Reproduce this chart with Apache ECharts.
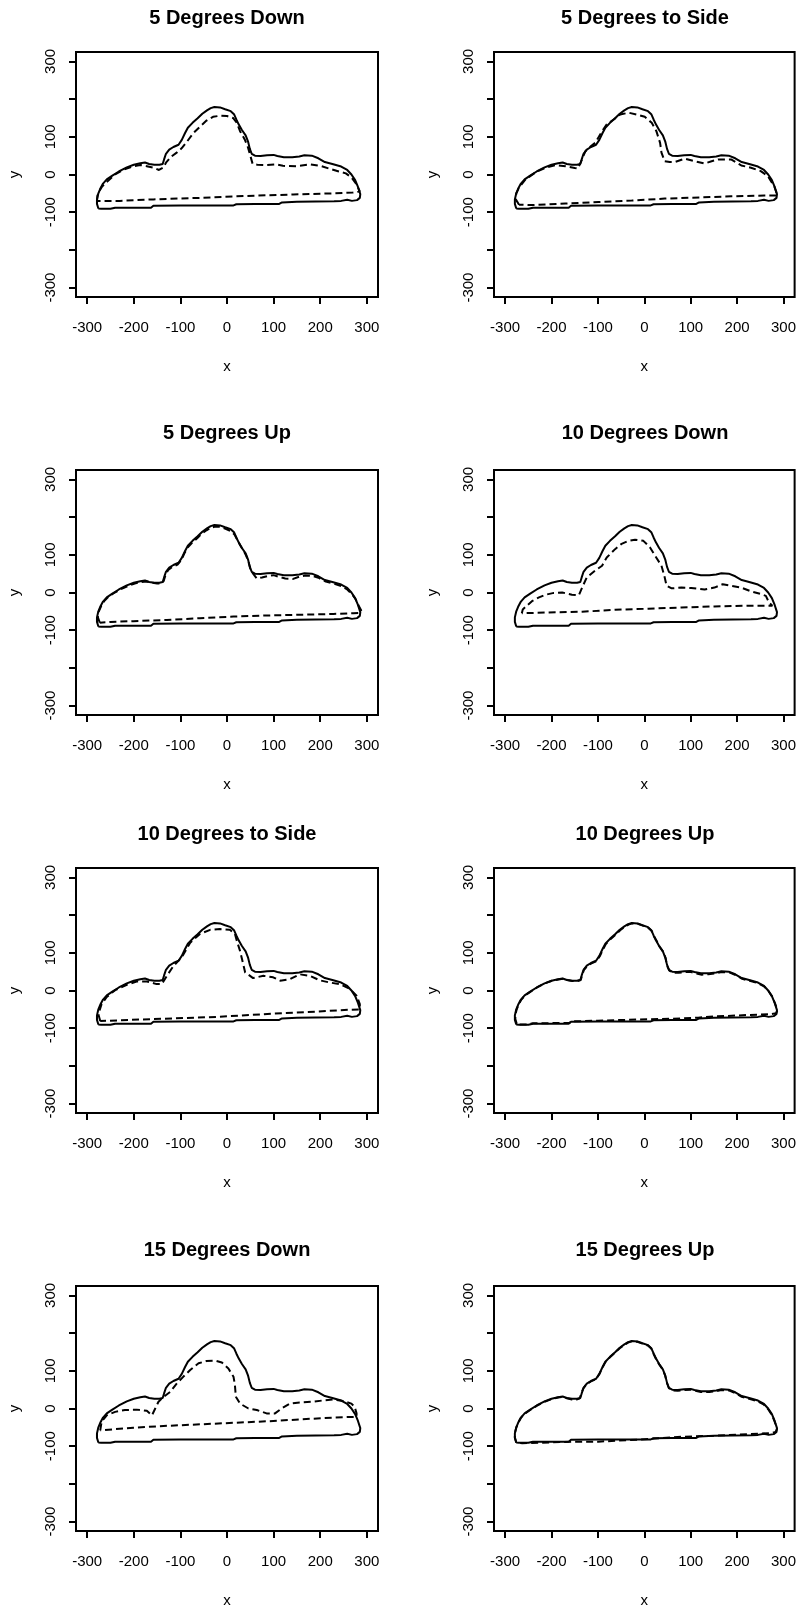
<!DOCTYPE html>
<html>
<head>
<meta charset="utf-8">
<title>Outline distortion by viewing angle</title>
<script src="https://cdn.jsdelivr.net/npm/echarts@6/dist/echarts.min.js"></script>
<style>
  html, body { margin: 0; padding: 0; background: #fff; }
  #main { width: 799px; height: 1617px; }
</style>
</head>
<body>
<div id="main"></div>
<script>
// panel titles, row by row
const panelTitles = [
  "5 Degrees Down", "5 Degrees to Side",
  "5 Degrees Up", "10 Degrees Down",
  "10 Degrees to Side", "10 Degrees Up",
  "15 Degrees Down", "15 Degrees Up"
];
const xTicks = [-300, -200, -100, 0, 100, 200, 300];
const yTicks = [-300, -200, -100, 0, 100, 200, 300];
const yLabels = [-300, -100, 0, 100, 300];

// reference outline (solid), same in every panel
const reference = [
  [-276,-90],[-279,-78],[-279,-66],[-276,-50],[-272,-38],[-266,-24],[-258,-13],[-246,-3],[-232,8],[-215,19],
  [-200,26],[-186,30],[-176,32],[-167,28],[-156,26],[-145,26],[-138,28],[-135,40],[-131,55],[-124,66],
  [-115,73],[-104,79],[-97,92],[-90,110],[-84,124],[-74,137],[-63,149],[-53,161],[-43,170],[-35,176],
  [-27,179],[-15,178],[-4,173],[8,168],[15,160],[20,146],[25,133],[32,118],[40,104],[45,88],
  [49,68],[53,55],[60,50],[72,49],[86,51],[100,52],[108,49],[122,46],[140,46],[155,48],
  [166,51],[182,50],[196,43],[210,33],[228,27],[245,21],[258,12],[267,0],[275,-15],[281,-33],
  [286,-52],[285,-62],[279,-68],[268,-70],[258,-67],[245,-70],[230,-71],[150,-72],[118,-74],[112,-78],
  [60,-78],[20,-79],[14,-82],[-100,-82],[-158,-83],[-163,-88],[-240,-88],[-250,-91],[-270,-91],[-276,-90]
];

// tilted outlines (dashed), one per panel
const down5 = [
  [-279,-70],[-278,-56],[-274,-44],[-268,-32],[-258,-20],[-240,0],[-222,13],[-201,22],[-186,25],[-172,22],
  [-158,18],[-146,12],[-137,18],[-130,33],[-120,47],[-108,58],[-97,70],[-86,87],[-72,110],[-58,127],
  [-44,143],[-30,153],[-15,156],[0,155],[13,150],[21,137],[28,115],[38,93],[45,72],[50,50],
  [55,28],[65,26],[80,25],[105,27],[120,23],[150,22],[178,27],[203,22],[221,15],[240,8],
  [255,3],[267,-8],[278,-26],[285,-45],[270,-48],[230,-50],[142,-53],[14,-58],[-58,-62],[-158,-66],
  [-230,-70],[-279,-70]
];
const side5 = [
  [-270,-80],[-277,-66],[-276,-50],[-270,-35],[-256,-13],[-234,6],[-213,18],[-191,25],[-170,22],[-150,17],
  [-143,16],[-135,38],[-127,62],[-116,74],[-106,84],[-98,100],[-91,115],[-81,133],[-66,146],[-52,159],
  [-34,164],[-16,159],[1,153],[16,137],[26,115],[34,84],[37,58],[44,35],[55,33],[66,33],
  [87,42],[109,35],[130,29],[145,35],[159,40],[187,40],[209,24],[230,18],[251,9],[266,-4],
  [280,-31],[287,-56],[259,-56],[187,-58],[44,-64],[-27,-69],[-99,-73],[-170,-77],[-241,-81],[-270,-80]
];
const up5 = [
  [-273,-80],[-277,-66],[-275,-50],[-270,-36],[-263,-22],[-255,-12],[-243,-2],[-229,8],[-213,17],[-198,24],
  [-184,28],[-172,29],[-162,26],[-150,24],[-140,24],[-136,30],[-132,46],[-126,60],[-117,68],[-106,74],
  [-98,86],[-91,105],[-84,120],[-75,132],[-64,144],[-54,156],[-44,165],[-34,172],[-25,175],[-14,174],
  [-3,169],[8,163],[16,154],[22,140],[28,126],[35,112],[41,98],[46,82],[50,63],[56,50],
  [64,37],[75,40],[88,44],[100,46],[110,42],[125,37],[142,36],[155,42],[168,45],[184,44],
  [198,38],[212,29],[230,23],[246,17],[258,8],[268,-4],[276,-18],[282,-34],[288,-48],[285,-54],
  [271,-55],[228,-57],[156,-59],[85,-61],[14,-64],[-58,-68],[-129,-73],[-201,-76],[-250,-78],[-273,-80]
];
const down10 = [
  [-264,-55],[-262,-45],[-256,-38],[-241,-22],[-227,-13],[-213,-6],[-195,-1],[-177,0],[-156,-6],[-141,-7],
  [-134,13],[-124,40],[-106,58],[-91,71],[-81,93],[-63,115],[-49,129],[-34,137],[-20,140],[-2,137],
  [12,120],[23,98],[37,71],[44,40],[48,18],[59,11],[80,13],[101,12],[130,8],[151,13],
  [169,22],[187,18],[209,13],[230,3],[251,-4],[262,-9],[269,-27],[276,-35],[223,-35],[151,-37],
  [80,-40],[9,-43],[-63,-46],[-134,-51],[-206,-53],[-264,-55]
];
const side10 = [
  [-272,-81],[-276,-63],[-269,-36],[-258,-17],[-240,1],[-215,15],[-194,24],[-172,24],[-151,17],[-140,17],
  [-129,39],[-115,65],[-97,88],[-79,127],[-58,150],[-36,161],[-15,163],[6,161],[17,150],[21,132],
  [28,105],[34,74],[39,48],[56,33],[78,39],[99,35],[114,26],[135,30],[156,43],[178,39],
  [199,27],[221,21],[242,17],[264,4],[278,-14],[285,-36],[285,-50],[264,-51],[192,-56],[121,-60],
  [49,-65],[-22,-70],[-94,-73],[-165,-76],[-229,-79],[-272,-81]
];
const up10 = [
  [-275,-88],[-278,-76],[-278,-64],[-275,-50],[-271,-37],[-265,-24],[-257,-13],[-245,-3],[-231,8],[-214,19],
  [-199,26],[-185,29],[-175,31],[-166,28],[-155,25],[-144,25],[-137,28],[-134,41],[-130,55],[-123,65],
  [-114,72],[-103,78],[-96,91],[-89,109],[-83,123],[-73,136],[-62,148],[-52,160],[-42,169],[-34,175],
  [-26,178],[-14,177],[-3,172],[9,166],[16,158],[21,144],[27,131],[33,116],[41,102],[46,86],
  [49,66],[54,53],[62,47],[74,47],[88,49],[101,49],[110,46],[124,42],[138,43],[154,46],
  [167,49],[183,48],[197,41],[211,31],[229,25],[246,19],[259,10],[268,-2],[276,-17],[282,-35],
  [287,-52],[284,-60],[273,-63],[223,-65],[150,-69],[116,-72],[60,-75],[-13,-77],[-100,-80],[-156,-82],
  [-162,-86],[-240,-87],[-252,-90],[-269,-90],[-275,-88]
];
const down15 = [
  [-272,-58],[-269,-35],[-258,-18],[-240,-9],[-219,-4],[-194,-3],[-172,-6],[-161,-18],[-154,0],[-147,18],
  [-136,31],[-122,44],[-108,66],[-94,84],[-79,102],[-61,120],[-44,126],[-26,127],[-11,122],[3,106],
  [14,84],[17,62],[19,31],[28,13],[46,0],[64,-4],[85,-13],[103,-13],[117,0],[135,13],
  [156,16],[185,18],[210,22],[228,24],[249,20],[267,13],[274,4],[278,-13],[278,-22],[228,-24],
  [156,-29],[85,-34],[14,-38],[-58,-42],[-129,-46],[-201,-51],[-272,-58]
];
const up15 = [
  [-276,-91],[-279,-77],[-279,-65],[-276,-51],[-272,-38],[-266,-25],[-258,-14],[-246,-4],[-232,7],[-215,18],
  [-200,25],[-186,29],[-176,31],[-167,27],[-156,24],[-146,24],[-139,27],[-136,40],[-131,54],[-124,65],
  [-115,72],[-104,78],[-97,91],[-90,109],[-84,123],[-74,136],[-63,148],[-53,160],[-43,169],[-35,175],
  [-27,178],[-15,177],[-4,172],[8,167],[15,159],[20,145],[25,132],[32,117],[40,103],[45,87],
  [49,67],[53,54],[61,48],[72,47],[86,49],[100,50],[109,47],[122,44],[140,44],[155,46],
  [166,49],[182,48],[196,41],[210,31],[228,25],[245,19],[258,10],[267,-2],[275,-17],[281,-35],
  [286,-54],[283,-62],[276,-65],[223,-68],[150,-72],[80,-75],[9,-81],[-99,-88],[-156,-88],[-200,-90],
  [-263,-92],[-276,-91]
];
const tilted = [down5, side5, up5, down10, side10, up10, down15, up15];

// layout (px)
const FONT = '"Liberation Sans", Arial, Helvetica, sans-serif';
const colLeft = [76, 494];
const colCenter = [227, 645];
const rowTop = [52, 470, 868, 1286];
const titleTop = [8, 423, 824, 1240];
const boxW = 302, boxH = 245;

const grids = [], xAxes = [], yAxes = [], series = [], titles = [];
panelTitles.forEach(function (name, i) {
  const col = i % 2, row = Math.floor(i / 2);
  grids.push({
    left: colLeft[col], top: rowTop[row], width: boxW, height: boxH,
    show: true, borderColor: "#000", borderWidth: 2, backgroundColor: "transparent",
  });
  titles.push({
    text: name, left: colCenter[col], top: titleTop[row], textAlign: "center", padding: 0,
    textStyle: { fontFamily: FONT, fontSize: 20, fontWeight: "bold", color: "#000" },
  });
  xAxes.push({
    gridIndex: i, type: "value", min: -324, max: 324, position: "bottom",
    axisLine: { show: false, onZero: false }, splitLine: { show: false },
    axisTick: { show: true, length: 7, customValues: xTicks, lineStyle: { color: "#000", width: 2 } },
    axisLabel: { customValues: xTicks, margin: 23, fontSize: 15, color: "#000", fontFamily: FONT },
    name: "x", nameLocation: "middle", nameGap: 62,
    nameTextStyle: { fontSize: 15, color: "#000", fontFamily: FONT },
  });
  yAxes.push({
    gridIndex: i, type: "value", min: -325, max: 325, position: "left",
    axisLine: { show: false, onZero: false }, splitLine: { show: false },
    axisTick: { show: true, length: 7, customValues: yTicks, lineStyle: { color: "#000", width: 2 } },
    axisLabel: { customValues: yLabels, rotate: 90, margin: 18, fontSize: 15, color: "#000", fontFamily: FONT },
    name: "y", nameLocation: "middle", nameGap: 54,
    nameTextStyle: { fontSize: 15, color: "#000", fontFamily: FONT },
  });
  series.push({
    type: "line", xAxisIndex: i, yAxisIndex: i, data: reference,
    showSymbol: false, symbol: "none", silent: true,
    lineStyle: { color: "#000", width: 2 },
  });
  series.push({
    type: "line", xAxisIndex: i, yAxisIndex: i, data: tilted[i],
    showSymbol: false, symbol: "none", silent: true,
    lineStyle: { color: "#000", width: 2, type: [7, 4] },
  });
});

const chart = echarts.init(document.getElementById("main"), null, { renderer: "canvas" });
chart.setOption({
  animation: false,
  backgroundColor: "#fff",
  title: titles,
  grid: grids,
  xAxis: xAxes,
  yAxis: yAxes,
  series: series,
});
</script>
</body>
</html>
